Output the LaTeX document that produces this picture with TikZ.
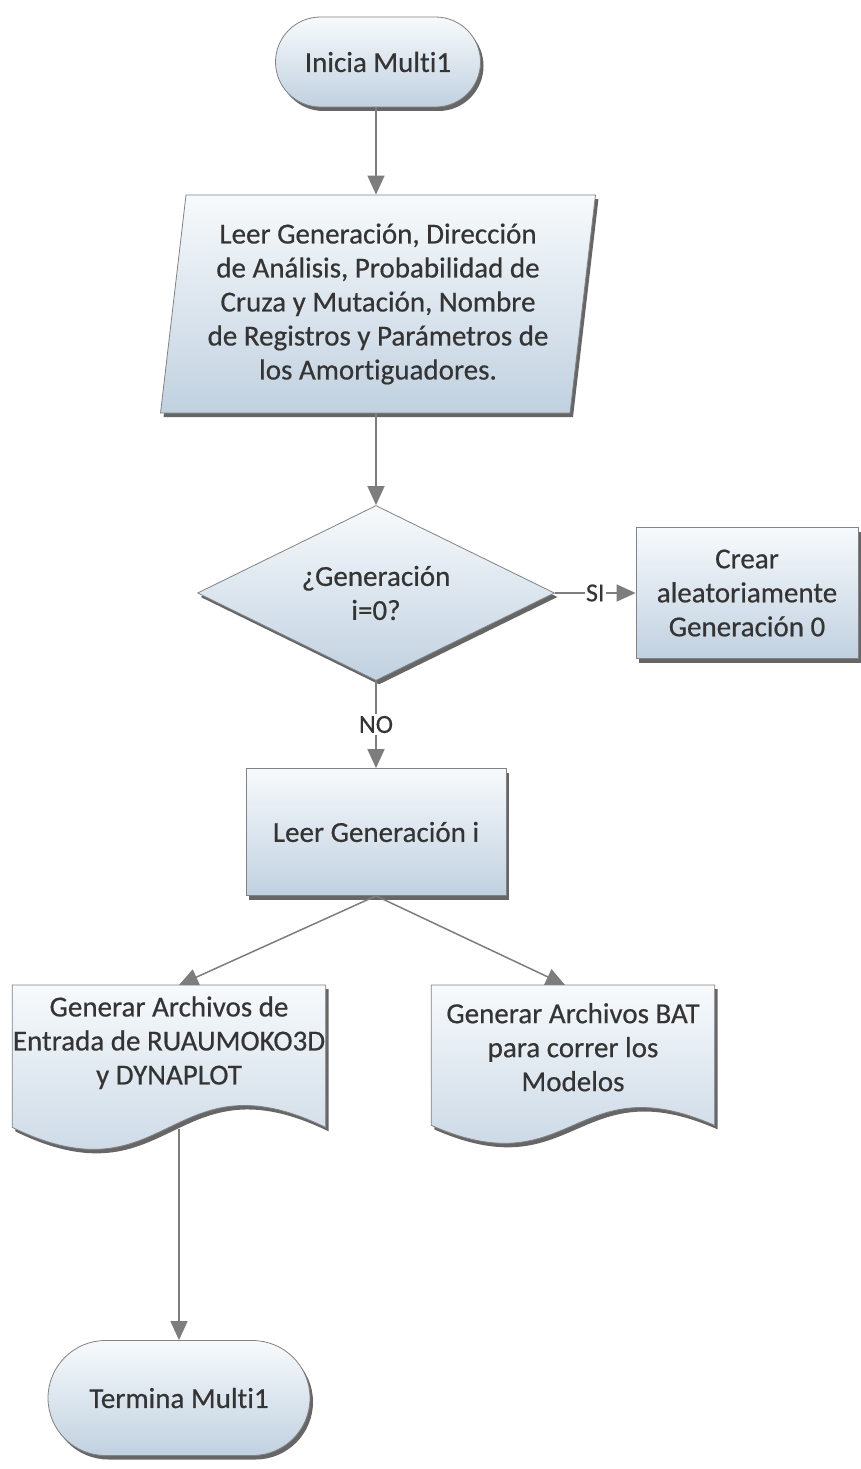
\documentclass[tikz,border=0pt]{standalone}
\usepackage{fontspec}
\setmainfont{Carlito}[Ligatures=NoCommon]
\newfontfamily\boxfont{Carlito}[Ligatures=NoCommon, FakeBold=0.5]
\usepackage{tikz}
\usetikzlibrary{positioning,arrows.meta,shapes.geometric,shapes.misc,shadows,backgrounds}
\definecolor{boxtop}{RGB}{247,250,252}
\definecolor{boxbot}{RGB}{193,209,224}
\definecolor{edgegray}{RGB}{130,130,130}
\definecolor{txtgray}{RGB}{52,52,52}
\definecolor{arrgray}{RGB}{125,125,125}
\tikzset{
  visio/.style={draw=edgegray, line width=0.8pt, top color=boxtop, bottom color=boxbot,
    drop shadow={shadow xshift=3pt, shadow yshift=-4pt, fill=black!80, opacity=0.75}},
  boxtext/.style={text=txtgray, font=\boxfont\fontsize{29}{34}\selectfont, align=center, inner sep=0pt},
  term/.style={visio, boxtext, rounded rectangle},
  iobox/.style={visio, boxtext, trapezium, trapezium left angle=82, trapezium right angle=98, trapezium stretches=true},
  decision/.style={visio, boxtext, diamond, aspect=2},
  proc/.style={visio, boxtext, rectangle},
  docnode/.style={boxtext},
  link/.style={draw=arrgray, line width=1.5pt, -{Triangle[length=19pt,width=17pt]}},
  tag/.style={fill=white, text=txtgray, font=\boxfont\fontsize{26}{30}\selectfont, inner sep=1.5pt}
}

\begin{document}
\begin{tikzpicture}[x=1pt,y=1pt]
  \useasboundingbox (0,0) rectangle (860,-1469);

  \node[term, minimum width=205pt, minimum height=90pt] (start) at (378,-62) {Inicia Multi1};
  \node[iobox, minimum width=437pt, minimum height=218pt] (read) at (378,-304)
    {Leer Generación, Dirección\\de Análisis, Probabilidad de\\Cruza y Mutación, Nombre\\de Registros y Parámetros de\\los Amortiguadores.};
  \node[decision, minimum width=357pt, minimum height=175pt] (ask) at (376,-593) {¿Generación\\i=0?};
  \node[proc, minimum width=222pt, minimum height=131pt] (gen0) at (747,-593) {Crear\\aleatoriamente\\Generación 0};
  \node[proc, minimum width=260pt, minimum height=127pt] (readi) at (376,-832) {Leer Generación i};
  \node[docnode, minimum width=313pt, minimum height=115pt, anchor=north] (files) at (169,-985)
    {Generar Archivos de\\Entrada de RUAUMOKO3D\\y DYNAPLOT};
  \node[docnode, minimum width=283pt, minimum height=124pt, anchor=north] (bat) at (573,-985)
    {Generar Archivos BAT\\para correr los\\Modelos};
  \node[term, minimum width=262pt, minimum height=115pt] (stop) at (179,-1398) {Termina Multi1};

  \begin{pgfonlayer}{background}
    \path[visio] (files.north west) -- (files.north east) -- ([yshift=-27pt]files.south east)
      .. controls +(-156,76) and +(156,-76) .. ([yshift=-27pt]files.south west) -- cycle;
    \path[visio] (bat.north west) -- (bat.north east) -- ([yshift=-16pt]bat.south east)
      .. controls +(-141,62) and +(141,-62) .. ([yshift=-16pt]bat.south west) -- cycle;
  \end{pgfonlayer}

  \draw[link] (start.south -| ask.north) -- (read.north -| ask.north);
  \draw[link] (read.south -| ask.north) -- (ask);
  \draw[link] (ask) -- node[tag] {SI} (gen0);
  \draw[link] (ask) -- node[tag] {NO} (readi);
  \draw[link] (readi.south) -- ([xshift=10pt]files.north);
  \draw[link] (readi.south) -- ([xshift=-8pt]bat.north);
  \coordinate (fbot) at ([yshift=-29pt]files.south);
  \draw[link] (fbot -| stop.north) -- (stop.north);
\end{tikzpicture}
\end{document}
